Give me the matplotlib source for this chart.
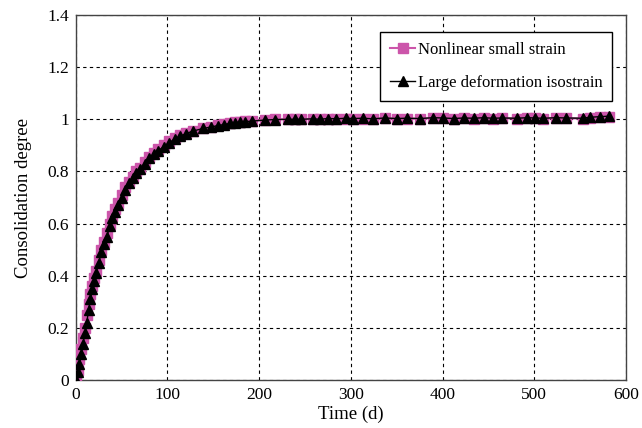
import matplotlib
matplotlib.use("Agg")
import matplotlib.pyplot as plt
from matplotlib.ticker import FuncFormatter

plt.rcParams['font.family'] = ['Liberation Serif', 'DejaVu Serif']

# time (days)
time_d = [0, 2, 4, 6, 8, 10, 12, 14, 16, 18, 20, 22, 25, 28, 31, 34, 37, 40, 43, 46,
          50, 54, 58, 62, 66, 70, 75, 80, 85, 90, 96, 102, 108, 114, 120, 128, 139,
          147, 155, 162, 168, 174, 179, 185, 192, 206, 217, 232, 239, 246, 259, 266,
          275, 284, 295, 302, 313, 324, 337, 350, 361, 375, 390, 401, 412, 423, 434,
          445, 455, 465, 481, 492, 501, 510, 524, 535, 553, 561, 572, 581]

# Large deformation isostrain
large_def = [0.0, 0.03, 0.06, 0.10, 0.14, 0.18, 0.22, 0.27, 0.31, 0.35, 0.38, 0.41,
             0.45, 0.49, 0.52, 0.55, 0.59, 0.62, 0.645, 0.67, 0.70, 0.73, 0.755, 0.775,
             0.795, 0.81, 0.83, 0.85, 0.865, 0.88, 0.895, 0.91, 0.925, 0.935, 0.945,
             0.955, 0.965, 0.970, 0.976, 0.980, 0.984, 0.987, 0.989, 0.991, 0.993,
             0.997, 0.999, 1.0, 1.0, 1.0, 1.002, 1.0, 1.003, 1.002, 1.004, 1.003,
             1.004, 1.002, 1.005, 1.003, 1.004, 1.003, 1.006, 1.005, 1.003, 1.005,
             1.004, 1.006, 1.004, 1.005, 1.004, 1.006, 1.005, 1.004, 1.006, 1.005,
             1.004, 1.008, 1.010, 1.012]

# Nonlinear small strain
small_strain = [0.0, 0.04, 0.08, 0.12, 0.16, 0.20, 0.25, 0.29, 0.33, 0.36, 0.39, 0.42,
                0.46, 0.50, 0.53, 0.565, 0.60, 0.63, 0.655, 0.68, 0.71, 0.74, 0.76,
                0.78, 0.80, 0.815, 0.835, 0.855, 0.87, 0.885, 0.90, 0.915, 0.928, 0.938,
                0.948, 0.957, 0.966, 0.972, 0.977, 0.981, 0.985, 0.988, 0.990, 0.992,
                0.994, 0.998, 1.0, 1.0, 1.001, 1.0, 1.002, 1.001, 1.002, 1.001, 1.003,
                1.002, 1.003, 1.001, 1.004, 1.002, 1.003, 1.002, 1.005, 1.004, 1.002,
                1.004, 1.003, 1.005, 1.003, 1.004, 1.003, 1.005, 1.004, 1.003, 1.005,
                1.004, 1.003, 1.006, 1.008, 1.010]

x_ticks = [0, 100, 200, 300, 400, 500, 600]
y_ticks = [0, 0.2, 0.4, 0.6, 0.8, 1.0, 1.2, 1.4]

fig = plt.figure(figsize=(6.42, 4.28), dpi=100)
ax = fig.add_axes([0.118, 0.112, 0.857, 0.853])

pink = '#CC55AA'
ax.plot(time_d, small_strain, color=pink, marker='s', markersize=7, linewidth=1.5,
        markeredgecolor=pink, label='Nonlinear small strain', zorder=3)
ax.plot(time_d, large_def, color='black', marker='^', markersize=6.5, linewidth=1.0,
        label='Large deformation isostrain', zorder=4)

ax.set_xlim(0, 600)
ax.set_ylim(0, 1.4)
ax.set_xticks(x_ticks)
ax.set_yticks(y_ticks)
ax.yaxis.set_major_formatter(FuncFormatter(lambda v, p: f'{v:g}'))
ax.grid(True, color='black', linestyle=(0, (3, 3)), linewidth=0.8)
ax.tick_params(axis='both', labelsize=12.5, length=0, pad=5)
for s in ax.spines.values():
    s.set_color('#444444')
    s.set_linewidth(1.0)

ax.set_xlabel('Time (d)', fontsize=13.5, labelpad=2)
ax.set_ylabel('Consolidation degree', fontsize=13.5, labelpad=11)

leg = ax.legend(loc='upper right', bbox_to_anchor=(0.975, 0.953), fontsize=12,
                fancybox=False, edgecolor='black', framealpha=1, handlelength=1.5,
                handletextpad=0.15, labelspacing=1.0, borderpad=0.6,
                borderaxespad=0)
leg.get_frame().set_linewidth(1.0)

fig.savefig('out.png', dpi=100)
